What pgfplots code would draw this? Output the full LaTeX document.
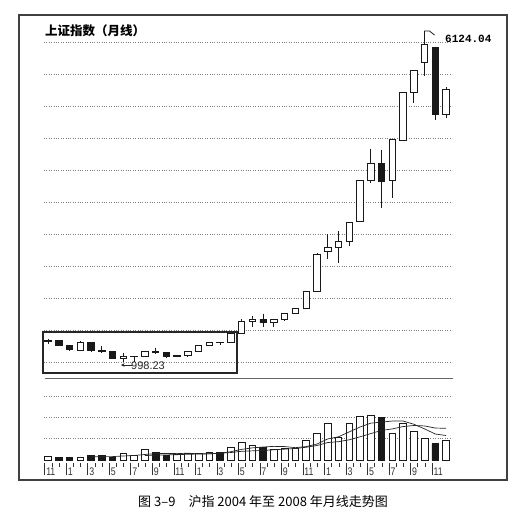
\documentclass[border=0pt]{standalone}
\usepackage{pgfplots}
\pgfplotsset{compat=1.18}
\usepackage{pgfplotstable}
\usetikzlibrary{arrows.meta}
\usepackage{fontspec}
\setmainfont{Liberation Sans}
\newfontfamily\cjk{Noto Sans CJK SC}
\newfontfamily\monob{Liberation Mono}
\newfontfamily\tickfont[FakeStretch=0.8]{Liberation Sans}

% monthly candles, i=0 is Nov 2004, i=37 is Dec 2007
% months that closed up
\pgfplotstableread{
i  o     h        l       c
0  1320  1357     1281    1340.77
3  1187  1328     1187    1306.00
7  1060  1147     998.23  1080.94
8  1080  1084     1004    1083.03
9  1083  1171     1072    1162.80
12 1092  1110     1074    1099.26
13 1099  1168     1078    1161.06
14 1163  1260     1163    1258.05
15 1258  1304     1258    1299.03
17 1298  1445     1292    1440.22
18 1440  1678     1440    1641.30
19 1641  1714     1541    1672.21
21 1612  1663     1540    1658.64
22 1658  1759     1644    1752.42
23 1752  1837     1752    1837.99
24 1838  2102     1826    2099.29
25 2099  2698     2087    2675.47
26 2728  2994     2604    2786.34
27 2786  3049     2541    2881.07
28 2881  3183     2818    3183.98
29 3196  3841     3196    3841.27
30 3839  4335     3791    4109.65
32 3837  4476     3563    4471.03
33 4461  5218     4461    5218.83
34 5216  5562     5040    5552.30
35 5683  6124.04  5462    5954.77
37 4868  5303     4812    5261.56
}\kup
% months that closed down
\pgfplotstableread{
i  o     h        l       c
1  1340  1346     1259    1266.50
2  1261  1270     1177    1191.82
4  1305  1316     1162    1181.24
5  1180  1248     1137    1159.15
6  1160  1160     1041    1060.74
10 1163  1223     1131    1155.61
11 1155  1160     1067    1092.82
16 1299  1305     1262    1298.30
20 1672  1757     1545    1612.73
31 4109  4311     3404    3820.70
36 5914  5928     4778    4871.78
}\kdown

% volume (grid units), months that closed up / down
\pgfplotstableread{
i  v
0  0.16
3  0.13
7  0.29
8  0.21
9  0.48
12 0.24
13 0.29
14 0.32
15 0.37
17 0.60
18 0.83
19 0.67
21 0.51
22 0.56
23 0.56
24 0.90
25 1.24
26 1.70
27 1.06
28 1.71
29 2.06
30 2.11
32 1.27
33 1.71
34 1.35
35 1.00
37 0.92
}\volup
\pgfplotstableread{
i  v
1  0.13
2  0.13
4  0.21
5  0.21
6  0.13
10 0.37
11 0.22
16 0.37
20 0.60
31 1.98
36 0.76
}\voldown

\pgfplotstableread{
i  m
4  0.15
5  0.16
6  0.16
7  0.19
8  0.21
9  0.26
10 0.30
11 0.31
12 0.30
13 0.32
14 0.29
15 0.29
16 0.32
17 0.39
18 0.50
19 0.57
20 0.61
21 0.64
22 0.63
23 0.58
24 0.63
25 0.75
26 0.99
27 1.09
28 1.32
29 1.55
30 1.73
31 1.78
32 1.83
33 1.83
34 1.68
35 1.46
36 1.22
37 1.15
}\mafive
\pgfplotstableread{
i  m
9  0.21
10 0.23
11 0.24
12 0.25
13 0.27
14 0.28
15 0.29
16 0.32
17 0.35
18 0.41
19 0.43
20 0.45
21 0.48
22 0.51
23 0.54
24 0.60
25 0.68
26 0.82
27 0.86
28 0.95
29 1.09
30 1.24
31 1.39
32 1.46
33 1.57
34 1.62
35 1.60
36 1.50
37 1.49
}\maten

\pgfplotsset{
  pricepanel/.style={
    at={(44pt,-375pt)}, anchor=south west, scale only axis,
    width=408pt, height=355pt,
    xmin=-0.37, xmax=37.55, ymin=797, ymax=6344,
    axis line style={draw=none}, tick style={draw=none},
    xtick=\empty, ytick=\empty,
  },
  wick/.style={draw=none, mark=none,
    error bars/.cd, y dir=minus, y explicit, error mark=none,
    error bar style={draw=black!90, line width=0.9pt}},
}

\begin{document}
\begin{tikzpicture}
\path[use as bounding box] (0pt,0pt) rectangle (526pt,-522pt);
\fill[white] (0pt,0pt) rectangle (526pt,-522pt);
\draw[line width=1.1pt, black!75] (19pt,-15pt) rectangle (507pt,-480pt);

% price panel: grid and wicks
\begin{axis}[pricepanel,
  ytick={1000,1500,...,6000}, yticklabels={},
  ymajorgrids, grid style={dotted, black!50, line width=0.6pt},
]
\addplot[wick] table[x=i, y=h, y error minus expr=\thisrow{h}-\thisrow{l}] {\kup};
\addplot[wick] table[x=i, y=h, y error minus expr=\thisrow{h}-\thisrow{l}] {\kdown};
\draw[black!90, line width=0.8pt] (axis cs:35,6124.04) -- ++(0pt,3pt) -- ++(5pt,0pt) -- ++(5pt,-4pt);
\end{axis}

% bodies of up months
\begin{axis}[pricepanel, ybar stacked, bar width=0.6]
\addplot[draw=none, fill=none] table[x=i, y=o] {\kup};
\addplot[draw=black!90, fill=white, line width=0.9pt] table[x=i, y expr=\thisrow{c}-\thisrow{o}] {\kup};
\end{axis}

% bodies of down months
\begin{axis}[pricepanel, ybar stacked, bar width=0.6]
\addplot[draw=none, fill=none] table[x=i, y=c] {\kdown};
\addplot[draw=black!90, fill=black!90, line width=0.9pt] table[x=i, y expr=\thisrow{o}-\thisrow{c}] {\kdown};
\end{axis}

% volume panel
\begin{axis}[
  at={(44pt,-460pt)}, anchor=south west, scale only axis,
  width=408pt, height=80pt,
  xmin=-0.37, xmax=37.55, ymin=0, ymax=3.756,
  axis line style={draw=none},
  ytick={1,2,3}, yticklabels={}, ytick style={draw=none},
  ymajorgrids, grid style={dotted, black!50, line width=0.6pt},
  xtick={-0.3,1.7,3.7,5.7,7.7,9.7,11.7,13.7,15.7,17.7,19.7,21.7,23.7,25.7,27.7,29.7,31.7,33.7,35.7},
  xticklabels={11,1,3,5,7,9,11,1,3,5,7,9,11,1,3,5,7,9,11},
  minor x tick num=2,
  xtick pos=bottom, xtick align=outside,
  major tick length=12pt, minor tick length=4pt,
  xtick style={black!80, line width=0.7pt, yshift=-3pt},
  xticklabel style={anchor=north west, inner sep=0.5pt, yshift=5pt, xshift=0.8pt,
    font=\tickfont\fontsize{11}{11}\selectfont, text=black!80},
]
\addplot[ybar, bar width=0.62, bar shift=0pt, draw=black!90, fill=white, line width=0.8pt] table[x=i, y=v] {\volup};
\addplot[ybar, bar width=0.62, bar shift=0pt, draw=black!90, fill=black!90, line width=0.8pt] table[x=i, y=v] {\voldown};
\addplot[black!85, line width=0.7pt] table[x=i, y=m] {\mafive};
\addplot[black!85, line width=0.7pt] table[x=i, y=m] {\maten};
\draw[black!80, line width=0.7pt] (axis cs:-0.37,0) ++(0pt,-3pt) -- ++(408pt,0pt);
\end{axis}

\draw[black!60, line width=0.7pt] (45pt,-378pt) -- (453pt,-378pt);
\draw[black!85, line width=1.8pt] (43pt,-332pt) rectangle (237pt,-373pt);

\draw[black!85, line width=0.7pt, -{Stealth[length=3.5pt,width=3.5pt]}] (132pt,-365pt) -- (121pt,-365pt);
\node[anchor=west, inner sep=0pt, text=black!85, font=\fontsize{11}{11}\selectfont] at (131pt,-365.5pt) {998.23};
\node[anchor=west, inner sep=0pt, font=\monob\bfseries\fontsize{11}{11}\selectfont] at (445pt,-39pt) {6124.04};
\node[anchor=west, inner sep=0pt, font=\cjk\bfseries\fontsize{12.5}{13}\selectfont] at (45pt,-31pt) {上证指数（月线）};
\node[anchor=west, inner sep=0pt, font=\cjk\fontsize{13}{14}\selectfont] at (138pt,-502pt) {图 3–9\hspace{1em}沪指 2004 年至 2008 年月线走势图};
\end{tikzpicture}
\end{document}
